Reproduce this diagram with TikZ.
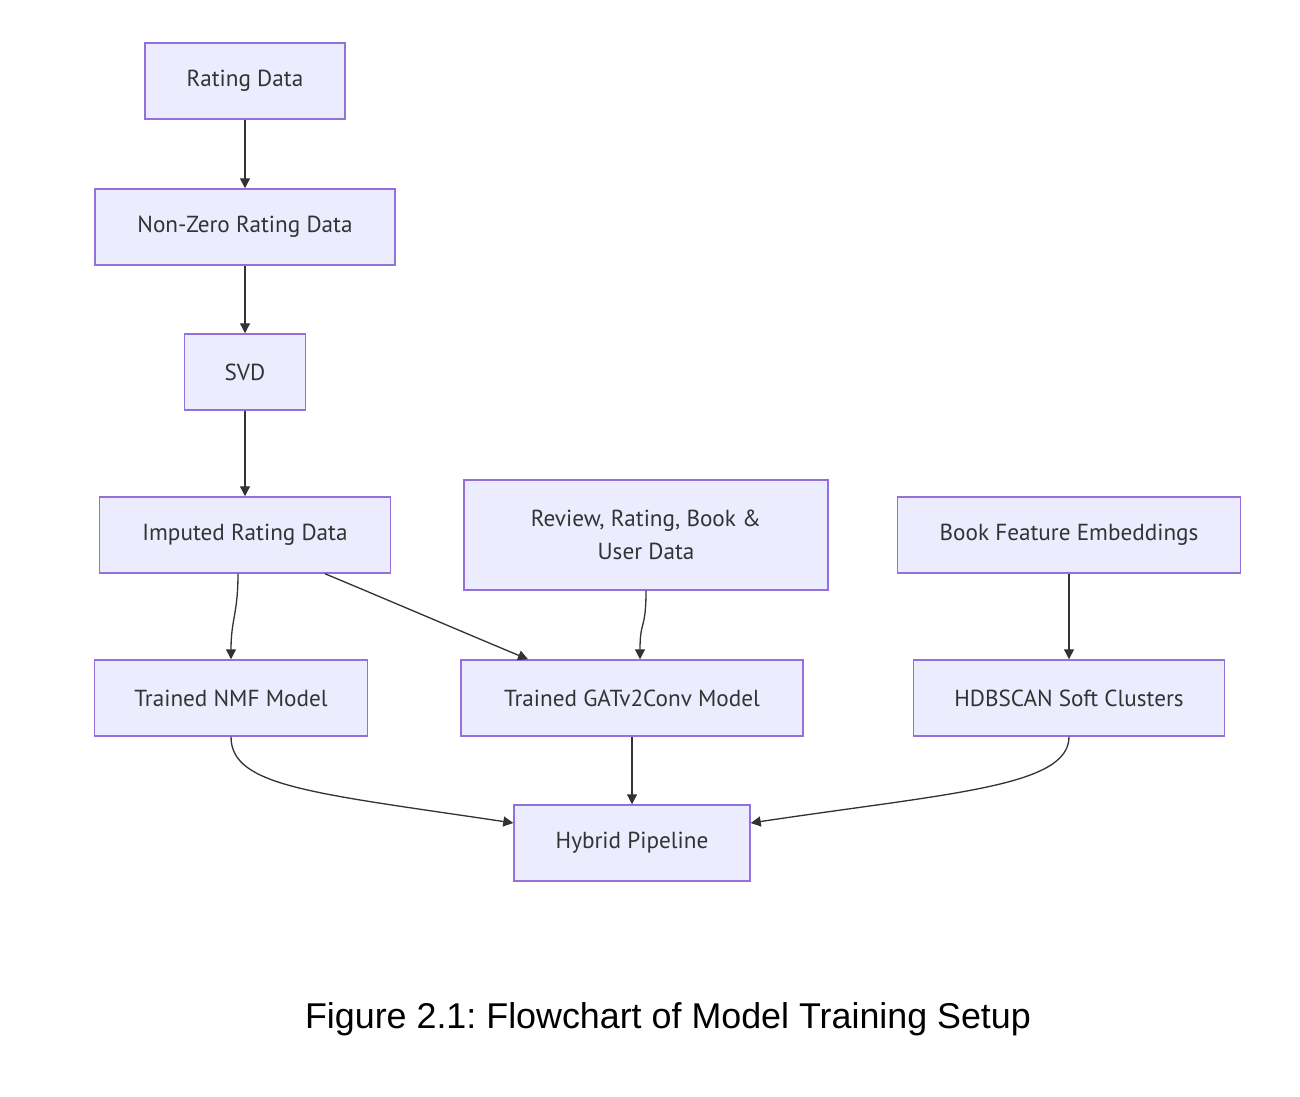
\documentclass[tikz,border=0pt]{standalone}
\usepackage{fontspec}
\setmainfont{PT Sans}
\newfontfamily\captionfont{Liberation Sans}
\usetikzlibrary{positioning,arrows.meta}
\definecolor{boxfill}{HTML}{ECECFF}
\definecolor{boxline}{HTML}{9370DB}
\definecolor{edgeline}{HTML}{333333}
\frenchspacing

\begin{document}
\begin{tikzpicture}[x=0.02cm, y=-0.02cm, >={Triangle[length=0.2cm,width=0.2cm]},
  font=\fontsize{13.2}{18.7}\selectfont,
  box/.style={draw=boxline, fill=boxfill, line width=0.85pt, text=edgeline,
    inner sep=0pt, minimum height=1.52cm, align=center},
  edge/.style={->, draw=edgeline, line width=0.75pt}]
  \useasboundingbox (0,0) rectangle (1300,1097);
  % left column
  \node[box, minimum width=4cm]    (rating)  at (245,81)  {Rating Data};
  \node[box, minimum width=6cm]    (nonzero) at (245,227) {Non-Zero Rating Data};
  \node[box, minimum width=2.42cm] (svd)     at (245,372) {SVD};
  \node[box, minimum width=5.82cm] (imputed) at (245,535) {Imputed Rating Data};
  % inputs of the other models
  \node[box, minimum width=7.28cm, minimum height=2.2cm] (review) at (646,535)
    {Review, Rating, Book \&\\User Data};
  \node[box, minimum width=6.86cm] (bookfeat) at (1069,535) {Book Feature Embeddings};
  % models
  \node[box, minimum width=5.46cm] (nmf) at (231,698)  {Trained NMF Model};
  \node[box, minimum width=6.84cm] (gat) at (632,698)  {Trained GATv2Conv Model};
  \node[box, minimum width=6.22cm] (hdb) at (1069,698) {HDBSCAN Soft Clusters};
  \node[box, minimum width=4.72cm] (hybrid) at (632,843) {Hybrid Pipeline};
  % caption
  \node[font=\captionfont\fontsize{20.4}{24}\selectfont, anchor=base] (caption) at (668,1028)
    {Figure 2.1: Flowchart of Model Training Setup};

  \draw[edge] (rating) -- (nonzero);
  \draw[edge] (nonzero) -- (svd);
  \draw[edge] (svd) -- (imputed);
  \draw[edge] ([xshift=-0.14cm]imputed.south) .. controls +(0,40) and +(0,-40) .. (nmf.north);
  \draw[edge] ([xshift=1.6cm]imputed.south) .. controls +(60,25) and +(-60,-25) .. ([xshift=-2.08cm]gat.north);
  \draw[edge] (review.south) .. controls +(0,40) and +(0,-40) .. ([xshift=0.16cm]gat.north);
  \draw[edge] (bookfeat) -- (hdb);
  \draw[edge] (gat) -- (hybrid);
  \draw[edge] (nmf.south) .. controls +(0,50) and +(-200,-30) .. ([yshift=0.4cm]hybrid.west);
  \draw[edge] (hdb.south) .. controls +(0,50) and +(200,-30) .. ([yshift=0.4cm]hybrid.east);
\end{tikzpicture}
\end{document}
